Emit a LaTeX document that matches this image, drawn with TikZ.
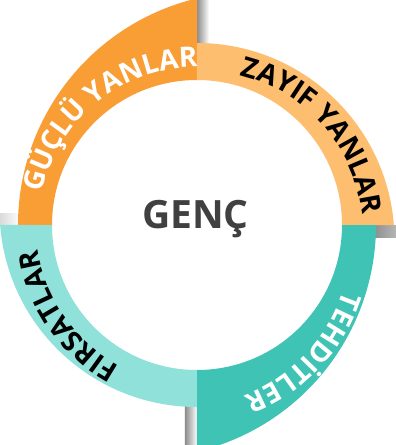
\documentclass[tikz,border=0pt]{standalone}
\usepackage{fontspec}
\setmainfont{Open Sans}
\usepackage{tikz}
\usetikzlibrary{decorations.text}

\definecolor{strongorange}{HTML}{F99D35}
\definecolor{weakorange}{HTML}{FDBE70}
\definecolor{threatteal}{HTML}{3EC3B5}
\definecolor{chanceteal}{HTML}{8FE1D9}
\definecolor{gencgray}{HTML}{404040}
\newcommand{\lblfont}{\fontsize{28}{30}\selectfont\bfseries}

\begin{document}
\begin{tikzpicture}[
    x=1pt, y=1pt,
    shadowbar/.style={left color=black!45, right color=white, draw=none},
    arclabel/.style={decorate, decoration={text along path, text align=center, text={#1}}},
    title/.style={font=\fontsize{39}{40}\selectfont\bfseries, text=gencgray, inner sep=0pt},
]
\useasboundingbox (-197,-220) rectangle (199,225);
\clip (-197,-220) rectangle (199,225);

% shadows at the wide end of each quarter
\foreach \k in {0,...,3}
    \shade[shadowbar, rotate=-90*\k] (0,176) rectangle (12,240);

% the four quarters (outer edge is an offset circle)
\foreach \k/\col/\R/\d/\e in {0/strongorange/233/54/103.4, 1/weakorange/197.5/15.5/94.5,
                              2/threatteal/233/54/103.4, 3/chanceteal/197.5/15.5/94.5}
    \fill[\col, rotate=-90*\k] (180:{\R-\d}) arc[start angle=180, end angle=\e, radius=\R]
        -- (90:145) arc[start angle=90, end angle=180, radius=145] -- cycle;

% labels
\path[arclabel={|\lblfont\color{white}|GÜÇLÜ YANLAR}]
    (175:158) arc[start angle=175, end angle=83, radius=158];
\path[arclabel={|\lblfont\color{black}|ZAYIF YANLAR}]
    plot[domain=80:-2, samples=40] (\x:{156+(71-\x)*9/64});
\path[arclabel={|\lblfont\color{white}|TEHDİTLER}]
    plot[domain=-8.5:-88.5, samples=40] (\x:{161+(-26-\x)*15/45});
\path[arclabel={|\lblfont\color{black}|FIRSATLAR}]
    (-105:161) arc[start angle=-105, end angle=-185, radius=161];

\node[title, anchor=base] (genc) at (-1.5,-3) {GENÇ};
\end{tikzpicture}
\end{document}
